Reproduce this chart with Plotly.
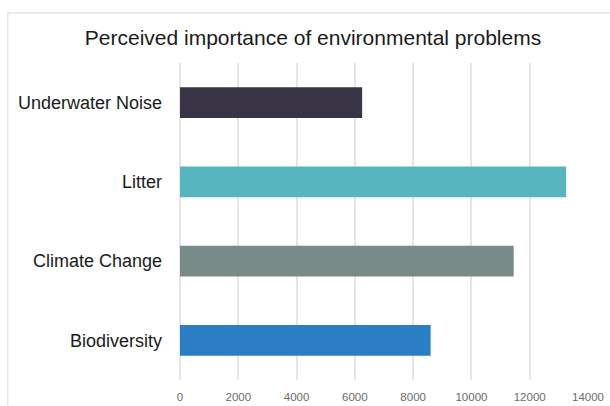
import plotly.graph_objects as go

categories = ["Underwater Noise", "Litter", "Climate Change", "Biodiversity"]
values = [6250, 13250, 11450, 8600]
colors = ["#393446", "#57b5bf", "#798b89", "#2b7ec3"]
x_ticks = [0, 2000, 4000, 6000, 8000, 10000, 12000, 14000]

W, H = 610, 406
L, R, T, B = 179.5, 22, 63, 26
pw = W - L - R
ph = H - T - B

fig = go.Figure(go.Bar(
    x=values, y=categories, orientation="h",
    marker=dict(color=colors, line=dict(width=0)),
))

def px_to_paper_x(px):
    return (px - L) / pw

def py_to_paper_y(py):
    return (H - B - py) / ph

fig.add_shape(type="rect", xref="paper", yref="paper",
              x0=px_to_paper_x(7), x1=px_to_paper_x(620),
              y0=py_to_paper_y(420), y1=py_to_paper_y(13),
              line=dict(color="#e6e6e6", width=1.5), fillcolor="rgba(0,0,0,0)", layer="below")

FONT = "Liberation Sans, Arial, sans-serif"

fig.update_layout(
    width=W, height=H,
    margin=dict(l=L, r=R, t=T, b=B, pad=0, autoexpand=False),
    paper_bgcolor="white", plot_bgcolor="white",
    showlegend=False,
    bargap=0.61,
    title=dict(text="Perceived importance of environmental problems",
               x=313 / W, xanchor="center", xref="container",
               y=1 - 38 / H, yanchor="middle", yref="container",
               font=dict(family=FONT, size=21, color="#1a1a1a")),
    xaxis=dict(range=[0, 14000], tickvals=x_ticks, ticktext=[str(v) for v in x_ticks],
               showgrid=True, gridcolor="#e6e6e6", gridwidth=1.5,
               zeroline=True, zerolinecolor="#e6e6e6", zerolinewidth=1.5,
               showline=False, ticks="", ticklabelstandoff=8, automargin=False,
               tickfont=dict(family=FONT, size=11.5, color="#6b6b6b")),
    yaxis=dict(categoryorder="array", categoryarray=categories, autorange="reversed",
               showgrid=False, zeroline=False, showline=False, ticks="",
               ticklabelstandoff=17, automargin=False,
               tickfont=dict(family=FONT, size=18, color="#1a1a1a")),
)

fig.write_html("out.html")
